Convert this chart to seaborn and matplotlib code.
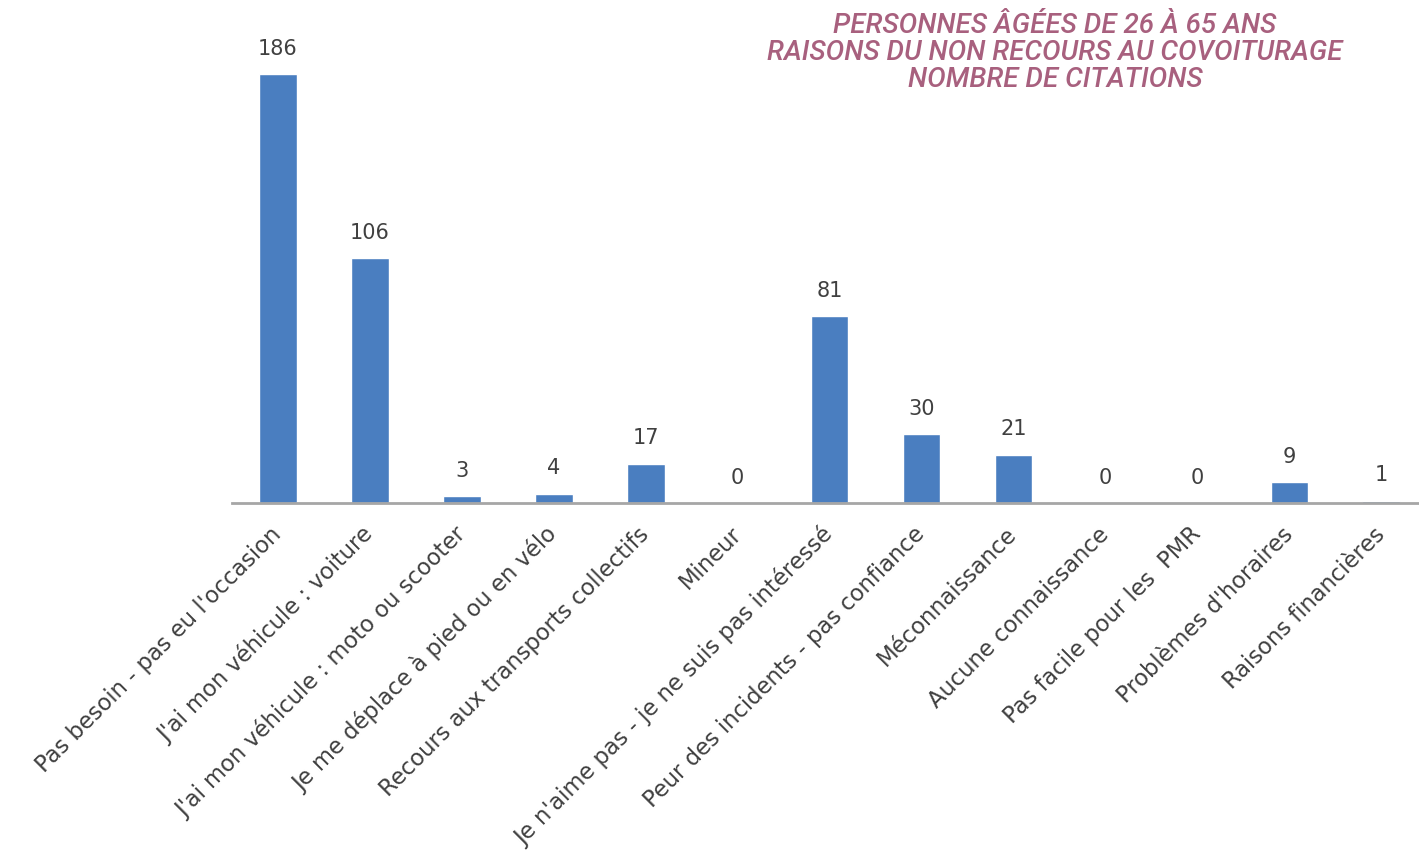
import pandas as pd
import seaborn as sns
import matplotlib.pyplot as plt

categories = [
    "Pas besoin - pas eu l'occasion",
    "J'ai mon véhicule : voiture",
    "J'ai mon véhicule : moto ou scooter",
    "Je me déplace à pied ou en vélo",
    "Recours aux transports collectifs",
    "Mineur",
    "Je n'aime pas - je ne suis pas intéressé",
    "Peur des incidents - pas confiance",
    "Méconnaissance",
    "Aucune connaissance",
    "Pas facile pour les  PMR",
    "Problèmes d'horaires",
    "Raisons financières",
]
citations = [186, 106, 3, 4, 17, 0, 81, 30, 21, 0, 0, 9, 1]
title = "PERSONNES ÂGÉES DE 26 À 65 ANS\nRAISONS DU NON RECOURS AU COVOITURAGE\nNOMBRE DE CITATIONS"

df = pd.DataFrame({"raison": categories, "n": citations})

sns.set_style("white")
plt.rcParams['font.family'] = ['DejaVu Sans']

fig = plt.figure(figsize=(14.19, 8.64), dpi=100)
ax = fig.add_axes([232 / 1419, 1 - 503 / 864, 1 - 232 / 1419, 503 / 864])

sns.barplot(data=df, x="raison", y="n", color="#4a7ec0", width=0.41,
            saturation=1, ax=ax)

ax.bar_label(ax.containers[0], padding=11, fontsize=15, color="#404040")

ax.set_xlim(-0.5, 12.41)
ax.set_ylim(0, 218)
ax.set_xlabel("")
ax.set_ylabel("")
ax.set_yticks([])
for s in ["top", "right", "left"]:
    ax.spines[s].set_visible(False)
ax.spines["bottom"].set_color("#a6a6a6")
ax.spines["bottom"].set_linewidth(2)
ax.tick_params(axis="x", length=0, pad=20)
plt.setp(ax.get_xticklabels(), rotation=45, ha="right", va="center",
         rotation_mode="anchor", fontsize=16.3, color="#404040")

fig.text(1055 / 1419, 1 - 12 / 864, title, ha="center", va="top",
         fontsize=20, family="Roboto", style="italic", weight="medium",
         color="#a8607e", linespacing=1.0)

fig.savefig("out.png", dpi=100)
